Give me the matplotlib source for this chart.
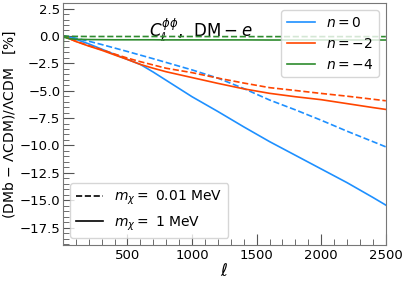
import numpy as np
import matplotlib
matplotlib.use("Agg")
import matplotlib.pyplot as plt
from matplotlib.ticker import MultipleLocator
from matplotlib.lines import Line2D

# multipoles
ell = [2, 5, 50, 100, 200, 300, 400, 500, 600, 700, 800, 1000, 1200, 1400,
       1600, 1800, 2000, 2200, 2400, 2500]

# n = 0
n0_1MeV = [0.0, 0.0, -0.12, -0.3, -0.72, -1.2, -1.68, -2.14, -2.6, -3.3, -4.05,
           -5.55, -6.9, -8.3, -9.65, -10.9, -12.15, -13.4, -14.75, -15.45]
n0_001MeV = [0.0, 0.0, -0.08, -0.2, -0.48, -0.78, -1.1, -1.42, -1.75, -2.08, -2.42,
             -3.1, -3.85, -4.8, -5.85, -6.75, -7.7, -8.7, -9.65, -10.13]
# n = -2
n2_1MeV = [0.0, -0.02, -0.25, -0.5, -0.92, -1.3, -1.73, -2.15, -2.6, -2.95, -3.27,
           -3.8, -4.33, -4.83, -5.24, -5.55, -5.82, -6.18, -6.54, -6.71]
n2_001MeV = [0.0, -0.02, -0.24, -0.48, -0.88, -1.25, -1.65, -2.02, -2.35, -2.65, -2.95,
             -3.35, -3.85, -4.3, -4.72, -4.98, -5.25, -5.5, -5.78, -5.92]
# n = -4
n4_1MeV = [-2.0, -0.1, -0.25, -0.3, -0.33, -0.34, -0.35, -0.35, -0.35, -0.35, -0.36,
           -0.36, -0.36, -0.36, -0.37, -0.37, -0.37, -0.37, -0.37, -0.37]
n4_001MeV = [0.0, 0.0, -0.03, -0.04, -0.05, -0.05, -0.05, -0.05, -0.05, -0.05, -0.05,
             -0.05, -0.06, -0.06, -0.06, -0.06, -0.06, -0.06, -0.06, -0.06]

colors = {"0": "#1E90FF", "-2": "#FF4500", "-4": "#2E8B2E"}

fig = plt.figure(figsize=(4.07, 2.83), dpi=100)
ax = fig.add_axes([0.155, 0.134, 0.793, 0.855])

lw = 1.2
ax.plot(ell, n0_001MeV, "--", color=colors["0"], lw=lw)
ax.plot(ell, n0_1MeV, "-", color=colors["0"], lw=lw)
ax.plot(ell, n2_001MeV, "--", color=colors["-2"], lw=lw)
ax.plot(ell, n2_1MeV, "-", color=colors["-2"], lw=lw)
ax.plot(ell, n4_001MeV, "--", color=colors["-4"], lw=lw)
ax.plot(ell, n4_1MeV, "-", color=colors["-4"], lw=lw)

ax.text(670, -0.1, r"$C_\ell^{\phi\phi}$,  $\mathrm{DM}-e$", fontsize=12,
        va="baseline", zorder=0)

ax.set_xlim(2, 2500)
ax.set_ylim(-19.1, 3.0)
ax.xaxis.set_major_locator(MultipleLocator(500))
ax.xaxis.set_minor_locator(MultipleLocator(100))
ax.yaxis.set_major_locator(MultipleLocator(2.5))
ax.yaxis.set_minor_locator(MultipleLocator(0.5))
ax.tick_params(which="both", direction="in", color="#555555", labelsize=9.5)
ax.tick_params(which="major", length=8)
ax.tick_params(which="minor", length=4)
ax.tick_params(axis="y", pad=2)
ax.tick_params(axis="x", pad=3)
for sp in ax.spines.values():
    sp.set_color("#777777")

ax.set_xlabel(r"$\ell$", fontsize=12, labelpad=0)
ax.set_ylabel(r"(DMb $-$ $\Lambda$CDM)/$\Lambda$CDM   [%]", fontsize=10, labelpad=1)

h1 = [Line2D([], [], color=colors["0"], lw=lw),
      Line2D([], [], color=colors["-2"], lw=lw),
      Line2D([], [], color=colors["-4"], lw=lw)]
leg1 = ax.legend(h1, [r"$n=0$", r"$n=-2$", r"$n=-4$"], loc="upper right", fontsize=10)
ax.add_artist(leg1)

h2 = [Line2D([], [], color="k", ls="--", lw=lw),
      Line2D([], [], color="k", ls="-", lw=lw)]
ax.legend(h2, [r"$m_\chi=$ 0.01 MeV", r"$m_\chi=$ 1 MeV"], loc="lower left", fontsize=10)

fig.savefig("out.png", dpi=100)
